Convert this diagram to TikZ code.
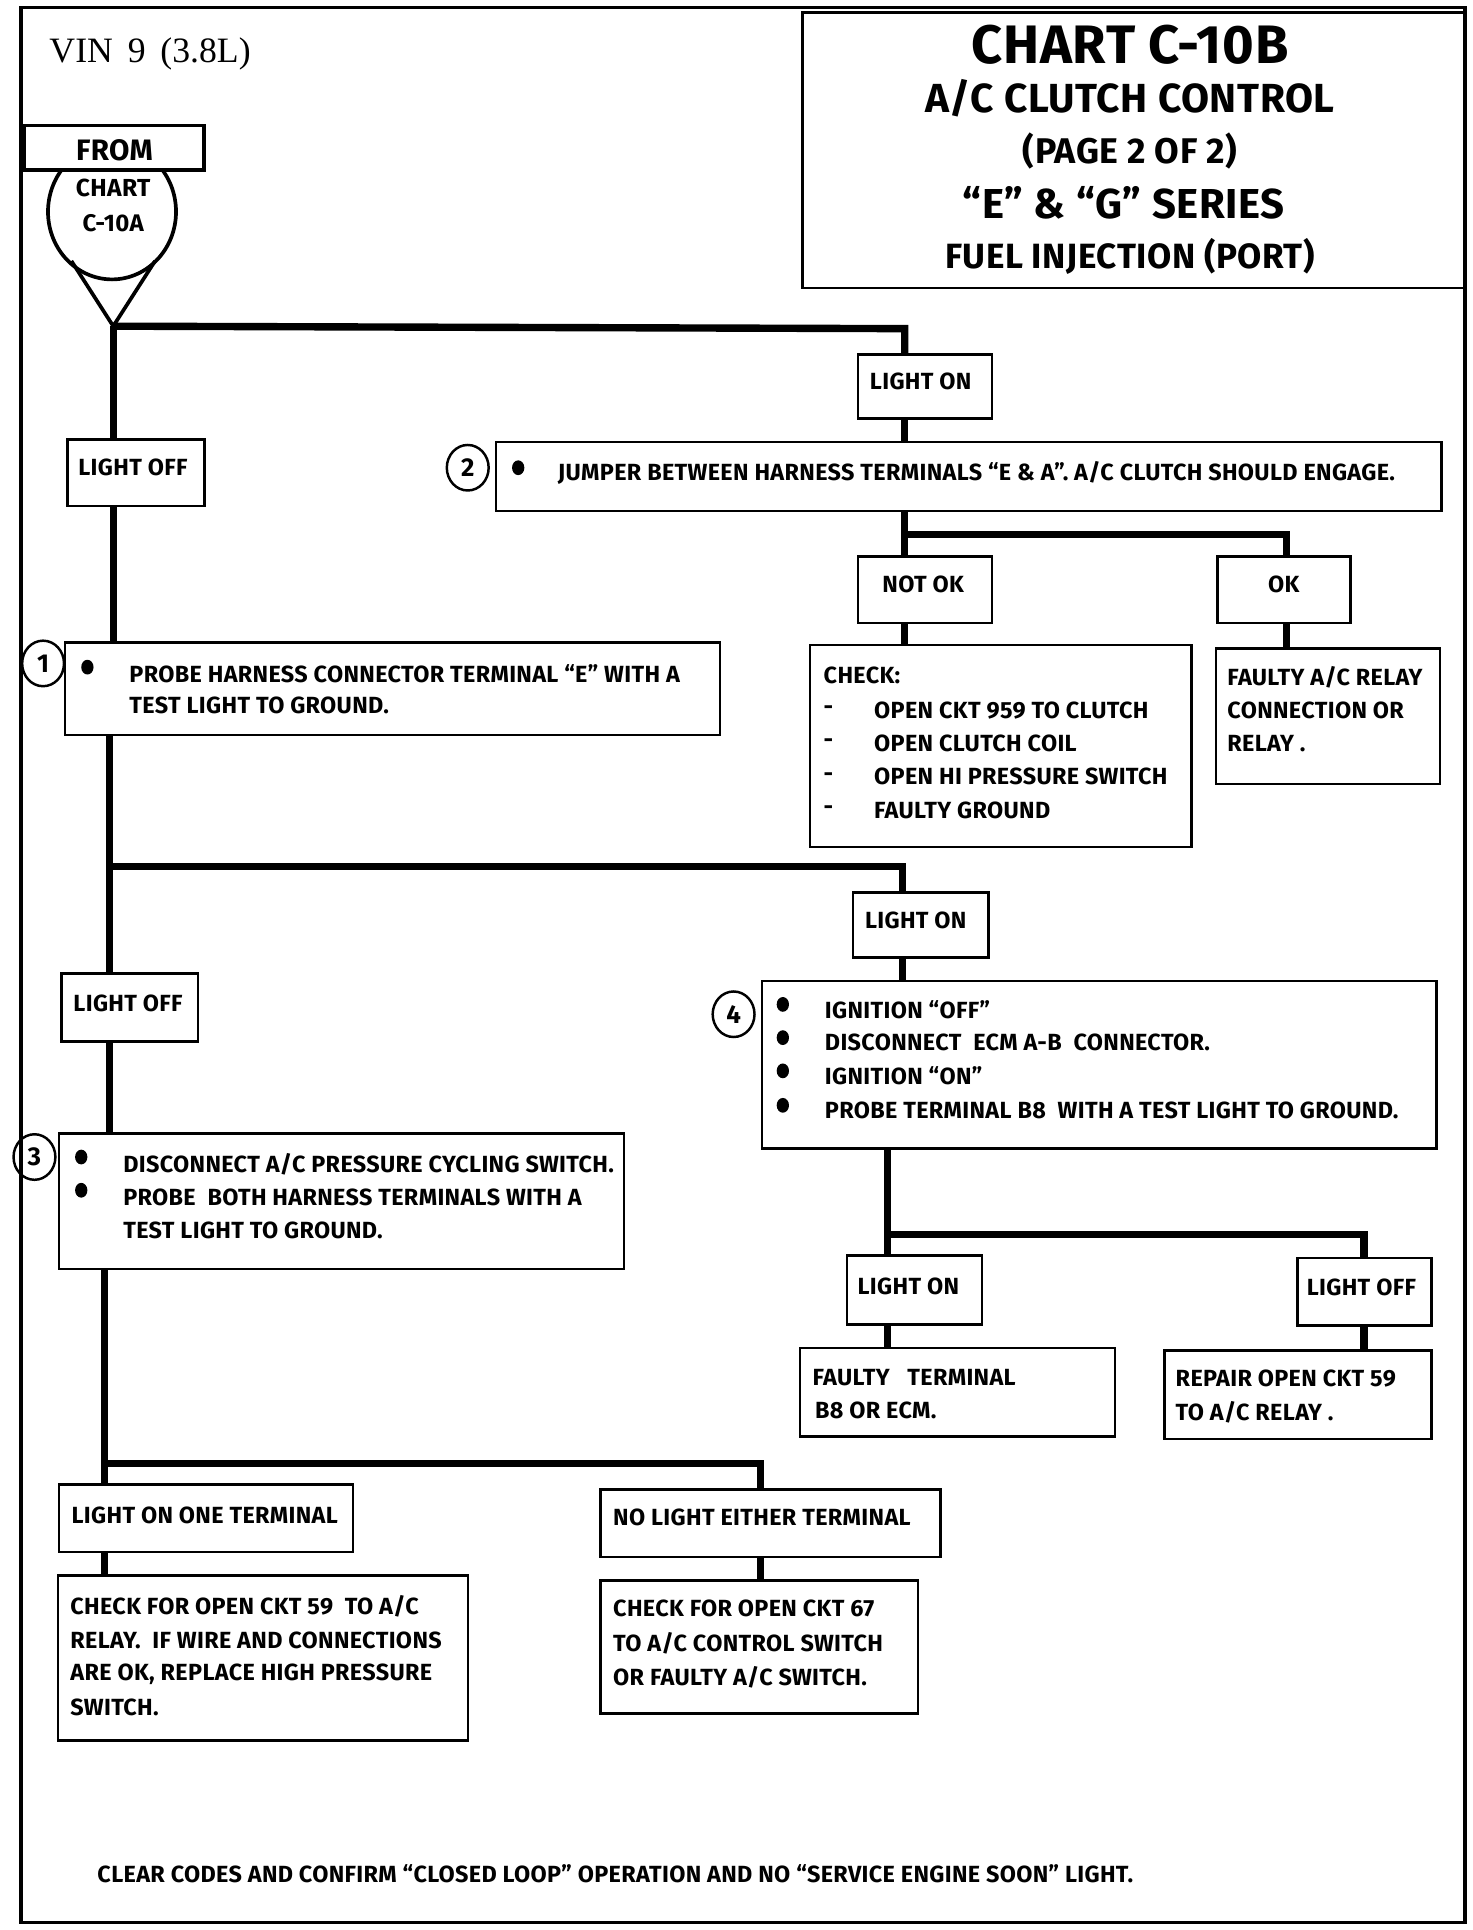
\documentclass[tikz,border=0pt]{standalone}
\usepackage{fontspec}
\setmainfont{Fira Sans}[LetterSpace=1.5]
\newfontfamily\vinfont{Liberation Serif}
\usetikzlibrary{fit,calc,shapes.geometric}
\begin{document}
\begin{tikzpicture}[x=1pt,y=-1pt,
  box/.style={draw, line width=2pt, inner sep=0pt},
  conn/.style={line width=6pt},
  txt/.style={anchor=west, inner sep=0pt, font=\bfseries\fontsize{19}{22}\selectfont},
  ctxt/.style={inner sep=0pt, font=\bfseries\fontsize{19}{22}\selectfont},
  numc/.style={draw, ellipse, line width=2pt, minimum width=34pt, minimum height=37pt, inner sep=0pt, font=\bfseries\fontsize{21}{24}\selectfont},
  bul/.style={ellipse, fill, minimum width=10pt, minimum height=12pt, inner sep=0pt},
  ttl/.style={inner sep=0pt, font=\bfseries}]
\useasboundingbox (0,0) rectangle (1196,1568);
% frame
\draw[line width=3pt] (17,6) rectangle (1190,1562);
% title box
\node[box, fit={(652,10) (1190,234)}] (title) {};
\node[ttl, font=\bfseries\fontsize{44}{48}\selectfont] (t1) at (918,36) {CHART C-10B};
\node[ttl, font=\bfseries\fontsize{33}{38}\selectfont] (t2) at (918,80) {A/C CLUTCH CONTROL};
\node[ttl, font=\bfseries\fontsize{29}{32}\selectfont] (t3) at (918,123) {(PAGE 2 OF 2)};
\node[ttl, font=\bfseries\fontsize{34}{38}\selectfont] (t4) at (913,165) {“E” \& “G” SERIES};
\node[ttl, font=\bfseries\fontsize{28.5}{32}\selectfont] (t5) at (918,208) {FUEL INJECTION (PORT)};
\node[anchor=west, inner sep=0pt, font=\vinfont\fontsize{29}{32}\selectfont] (vin) at (40,44) {VIN\, 9\, (3.8L)};
% start symbol
\draw[line width=3pt] (91,172) ellipse [x radius=52, y radius=55];
\coordinate (v) at (92,265);
\draw[line width=3pt] (58,212) -- (v) -- (126,212);
\node[box, line width=3pt, fill=white, fit={(20,102) (166,138)}] (from) {};
\node[ctxt, font=\bfseries\fontsize{24}{26}\selectfont] (fromt) at (93,122) {FROM};
\node[ctxt, font=\bfseries\fontsize{20}{22}\selectfont] (chart) at (92,153) {CHART};
\node[ctxt, font=\bfseries\fontsize{19.5}{22}\selectfont] (c10a) at (92,181) {C-10A};
% boxes
\node[box, fit={(697,288) (806,340)}] (lon1) {};
\node[ctxt] (lon1t) at (748,310) {LIGHT ON};
\node[box, fit={(55,357) (166,411)}] (loff1) {};
\node[ctxt] (loff1t) at (108,380) {LIGHT OFF};
\node[box, fit={(403,359) (1171,415)}] (box2) {};
\node[numc] (n2) at (380,380) {2};
\node[bul] (b2) at (421,380) {};
\node[txt] (box2t) at (453,384) {JUMPER BETWEEN HARNESS TERMINALS “E \& A”. A/C CLUTCH SHOULD ENGAGE.};
\node[box, fit={(697,452) (806,506)}] (notok) {};
\node[ctxt] (notokt) at (750,475) {NOT OK};
\node[box, fit={(989,452) (1097,506)}] (ok) {};
\node[ctxt] (okt) at (1043,475) {OK};
\node[box, fit={(658,524) (968,688)}] (check) {};
\node[txt] (ck0) at (669,549) {CHECK:};
\node[txt] (d1) at (669,577) {-};
\node[txt] (d2) at (669,604) {-};
\node[txt] (d3) at (669,631) {-};
\node[txt] (d4) at (669,658) {-};
\node[txt] (ck1) at (710,577) {OPEN CKT 959 TO CLUTCH};
\node[txt] (ck2) at (710,604) {OPEN CLUTCH COIL};
\node[txt] (ck3) at (710,631) {OPEN HI PRESSURE SWITCH};
\node[txt] (ck4) at (710,658) {FAULTY GROUND};
\node[box, fit={(988,527) (1170,637)}] (faulty) {};
\node[txt] (fa1) at (997,550) {FAULTY A/C RELAY};
\node[txt] (fa2) at (997,577) {CONNECTION OR};
\node[txt] (fa3) at (997,604) {RELAY .};
\node[box, fit={(53,522) (585,597)}] (box1) {};
\node[numc] (n1) at (35,539) {1};
\node[bul] (b1) at (71,542) {};
\node[txt] (box1a) at (105,547) {PROBE HARNESS CONNECTOR TERMINAL “E” WITH A};
\node[txt] (box1b) at (105,573) {TEST LIGHT TO GROUND.};
\node[box, fit={(693,725) (803,778)}] (lon2) {};
\node[ctxt] (lon2t) at (744,748) {LIGHT ON};
\node[box, fit={(50,791) (161,846)}] (loff2) {};
\node[ctxt] (loff2t) at (104,815) {LIGHT OFF};
\node[box, fit={(619,797) (1167,933)}] (box4) {};
\node[numc] (n4) at (596,824) {4};
\node[bul] (b4a) at (636,816) {};
\node[bul] (b4b) at (636,843) {};
\node[bul] (b4c) at (636,870) {};
\node[bul] (b4d) at (636,898) {};
\node[txt] (box4a) at (670,820) {IGNITION “OFF”};
\node[txt] (box4b) at (670,847) {DISCONNECT\ \ ECM A-B\ \ CONNECTOR.};
\node[txt] (box4c) at (670,874) {IGNITION “ON”};
\node[txt] (box4d) at (670,902) {PROBE TERMINAL B8\ \ WITH A TEST LIGHT TO GROUND.};
\node[box, fit={(688,1020) (798,1076)}] (lon3) {};
\node[ctxt] (lon3t) at (738,1045) {LIGHT ON};
\node[box, fit={(1054,1022) (1163,1077)}] (loff3) {};
\node[ctxt] (loff3t) at (1106,1046) {LIGHT OFF};
\node[box, fit={(650,1095) (906,1167)}] (ft) {};
\node[txt] (ft1) at (660,1119) {FAULTY\ \ \ TERMINAL};
\node[txt] (ft2) at (662,1146) {B8 OR ECM.};
\node[box, fit={(946,1097) (1163,1169)}] (rep) {};
\node[txt] (rep1) at (955,1120) {REPAIR OPEN CKT 59};
\node[txt] (rep2) at (955,1147) {TO A/C RELAY .};
\node[box, fit={(48,921) (507,1031)}] (box3) {};
\node[numc] (n3) at (28,940) {3};
\node[bul] (b3a) at (66,940) {};
\node[bul] (b3b) at (66,967) {};
\node[txt] (box3a) at (100,946) {DISCONNECT A/C PRESSURE CYCLING SWITCH.};
\node[txt] (box3b) at (100,973) {PROBE\ \ BOTH HARNESS TERMINALS WITH A};
\node[txt] (box3c) at (100,1000) {TEST LIGHT TO GROUND.};
\node[box, fit={(48,1206) (287,1261)}] (lonone) {};
\node[txt] (lononet) at (58,1231) {LIGHT ON ONE TERMINAL};
\node[box, fit={(488,1210) (764,1265)}] (nol) {};
\node[txt] (nolt) at (498,1233) {NO LIGHT EITHER TERMINAL};
\node[box, fit={(47,1280) (380,1414)}] (c59) {};
\node[txt] (c59a) at (57,1305) {CHECK FOR OPEN CKT 59\ \ TO A/C};
\node[txt] (c59b) at (57,1333) {RELAY.\ \ IF WIRE AND CONNECTIONS};
\node[txt] (c59c) at (57,1360) {ARE OK, REPLACE HIGH PRESSURE};
\node[txt] (c59d) at (57,1387) {SWITCH.};
\node[box, fit={(488,1284) (746,1392)}] (c67) {};
\node[txt] (c67a) at (498,1307) {CHECK FOR OPEN CKT 67};
\node[txt] (c67b) at (498,1335) {TO A/C CONTROL SWITCH};
\node[txt] (c67c) at (498,1363) {OR FAULTY A/C SWITCH.};
\node[txt] (foot) at (79,1522) {CLEAR CODES AND CONFIRM “CLOSED LOOP” OPERATION AND NO “SERVICE ENGINE SOON” LIGHT.};
% connectors
\coordinate (j1) at (735,267);
\draw[conn] (v) -- (j1) -- (j1 |- lon1.north);
\draw[conn] (v) -- (v |- loff1.north);
\draw[conn] (lon1.south -| j1) -- (box2.north -| j1);
\coordinate (j2) at (735,434);
\coordinate (j2r) at (1045,434);
\draw[conn] (box2.south -| j2) -- (j2) -- (j2r) -- (j2r |- ok.north);
\draw[conn] (j2) -- (j2 |- notok.north);
\draw[conn] (notok.south -| j2) -- (check.north -| j2);
\draw[conn] (ok.south -| j2r) -- (faulty.north -| j2r);
\draw[conn] (loff1.south -| v) -- (box1.north -| v);
\coordinate (j3) at (89,704);
\coordinate (j3r) at (733,704);
\draw[conn] (box1.south -| j3) -- (j3) -- (j3r) -- (j3r |- lon2.north);
\draw[conn] (j3) -- (j3 |- loff2.north);
\draw[conn] (lon2.south -| j3r) -- (box4.north -| j3r);
\draw[conn] (loff2.south -| j3) -- (box3.north -| j3);
\coordinate (j4) at (721,1003);
\coordinate (j4r) at (1108,1003);
\draw[conn] (box4.south -| j4) -- (j4) -- (j4r) -- (j4r |- loff3.north);
\draw[conn] (j4) -- (j4 |- lon3.north);
\draw[conn] (lon3.south -| j4) -- (ft.north -| j4);
\draw[conn] (loff3.south -| j4r) -- (rep.north -| j4r);
\coordinate (j5) at (85,1189);
\coordinate (j5r) at (618,1189);
\draw[conn] (box3.south -| j5) -- (j5) -- (j5r) -- (j5r |- nol.north);
\draw[conn] (j5) -- (j5 |- lonone.north);
\draw[conn] (lonone.south -| j5) -- (c59.north -| j5);
\draw[conn] (nol.south -| j5r) -- (c67.north -| j5r);
\end{tikzpicture}
\end{document}
